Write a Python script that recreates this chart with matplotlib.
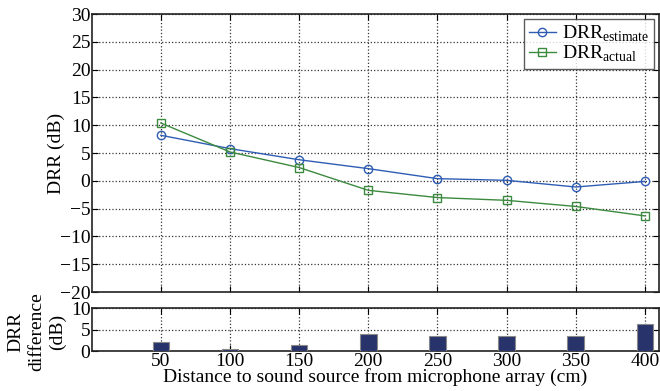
import numpy as np
import matplotlib
matplotlib.use("Agg")
import matplotlib.pyplot as plt

plt.rcParams['font.family'] = ['Liberation Serif', 'DejaVu Serif']
plt.rcParams['mathtext.fontset'] = 'custom'
plt.rcParams['mathtext.rm'] = 'Liberation Serif'

# distance to source (cm) and measured/estimated DRR (dB)
distance = [50, 100, 150, 200, 250, 300, 350, 400]
drr_estimate = [8.2, 5.8, 3.8, 2.2, 0.4, 0.1, -1.1, -0.1]
drr_actual = [10.4, 5.2, 2.4, -1.7, -3.0, -3.5, -4.6, -6.3]
drr_diff = np.abs(np.array(drr_estimate) - np.array(drr_actual))

top_yticks = [-20, -15, -10, -5, 0, 5, 10, 15, 20, 25, 30]
bot_yticks = [0, 5, 10]

BLUE = '#2f5db4'
GREEN = '#3c8a3f'
FS = 14

fig = plt.figure(figsize=(6.6, 3.91), dpi=100)
ax = fig.add_axes([0.139, 0.253, 0.859, 0.711])
ax2 = fig.add_axes([0.139, 0.102, 0.859, 0.110])

ax.plot(distance, drr_estimate, color=BLUE, lw=1.0, marker='o', ms=6,
        mfc='none', mec=BLUE, mew=1.0, label=r'DRR$_{\mathrm{estimate}}$')
ax.plot(distance, drr_actual, color=GREEN, lw=1.0, marker='s', ms=5.5,
        mfc='none', mec=GREEN, mew=1.0, label=r'DRR$_{\mathrm{actual}}$')

ax.set_xlim(0, 410)
ax.set_ylim(-20, 30)
ax.set_xticks(distance)
ax.set_xticklabels([])
ax.set_yticks(top_yticks)
ax.set_ylabel('DRR (dB)', fontsize=FS)
ax.yaxis.set_label_coords(-0.047, 0.5)
ax.grid(True, ls=':', color='#333333', lw=0.9)

leg = ax.legend(loc='upper right', fontsize=FS, frameon=True, fancybox=False,
                edgecolor='#333333', borderpad=0.25, labelspacing=0.0,
                handlelength=1.4, handletextpad=0.3, borderaxespad=0.25)
leg.get_frame().set_linewidth(1.0)

ax2.bar(distance, drr_diff, width=12, color='#27336a', edgecolor='#888888',
        lw=0.8, zorder=3)
ax2.set_xlim(0, 410)
ax2.set_ylim(0, 10)
ax2.set_xticks(distance)
ax2.set_yticks(bot_yticks)
ax2.grid(True, ls=':', color='#333333', lw=0.9)
ax2.set_ylabel('DRR\ndifference\n(dB)', fontsize=FS, linespacing=1.3)
ax2.yaxis.set_label_coords(-0.045, 0.45)
ax2.set_xlabel('Distance to sound source from microphone array (cm)',
               fontsize=FS, labelpad=-1)

for a in (ax, ax2):
    a.tick_params(direction='in', labelsize=FS, length=4, width=0.8, pad=1,
                  top=True, right=True)
    for s in a.spines.values():
        s.set_linewidth(1.2)
        s.set_color('#222222')

fig.savefig('out.png', dpi=100)
